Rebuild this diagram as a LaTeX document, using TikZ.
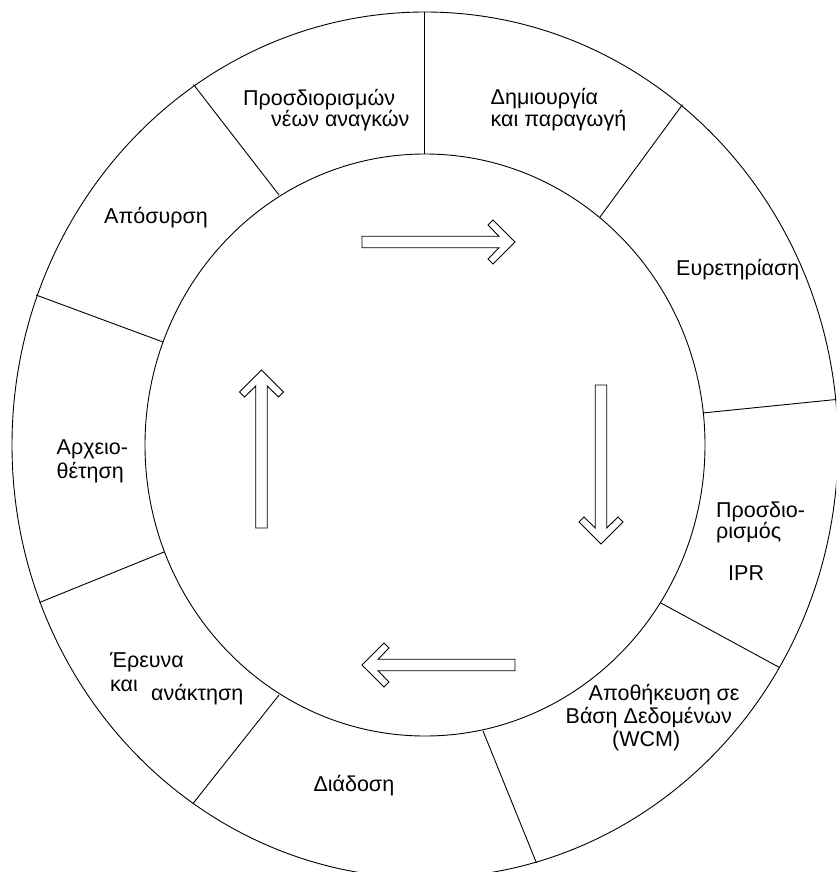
\documentclass[tikz,border=0pt]{standalone}
\usepackage{fontspec}
\setmainfont{Liberation Sans}
\tikzset{
  ring/.style={draw=black,line width=0.9pt},
  divider/.style={draw=black,line width=0.9pt},
  label/.style={inner sep=0pt,anchor=base west,font=\fontsize{21.5}{24}\selectfont},
  arrowline/.style={draw=black,line width=0.9pt,fill=white,line join=miter},
  pics/hollowarrow/.style={code={%
    \path[arrowline] (-#1,5.75) -- (-16,5.75) -- (-27,17) -- (-22,22) -- (0,0)
      -- (-22,-22) -- (-27,-17) -- (-16,-5.75) -- (-#1,-5.75) -- cycle;}}
}
\begin{document}
\begin{tikzpicture}[x=1pt,y=-1pt]
\useasboundingbox (0,0) rectangle (836,872);
\clip (0,0) rectangle (836,872);

% two rings
\coordinate (c) at (425,445);
\draw[ring] (c) ellipse [x radius=413pt, y radius=433pt];
\draw[ring] (c) ellipse [x radius=280pt, y radius=291pt];

% sector dividers: inner end (i) to outer end (o)
\coordinate (i1) at (424,154);   \coordinate (o1) at (424,12);
\coordinate (i2) at (279,195);   \coordinate (o2) at (193.5,84.5);
\coordinate (i3) at (163,342);   \coordinate (o3) at (36,295);
\coordinate (i4) at (164,552);   \coordinate (o4) at (39.5,602.5);
\coordinate (i5) at (279,695);   \coordinate (o5) at (193,803.5);
\coordinate (i6) at (483,731);   \coordinate (o6) at (536.5,863);
\coordinate (i7) at (660,602.5); \coordinate (o7) at (779.5,667.5);
\coordinate (i8) at (702.5,413); \coordinate (o8) at (836,399.5);
\coordinate (i9) at (600,217);   \coordinate (o9) at (682.5,104.6);
\foreach \k in {1,...,9} \draw[divider] (i\k) -- (o\k);

% cycle arrows
\pic at (515,242) {hollowarrow=153};
\pic[rotate=-90] at (601,544) {hollowarrow=159};
\pic[rotate=180] at (362,665) {hollowarrow=153};
\pic[rotate=90] at (261.5,370) {hollowarrow=158};

% sector labels
\node[label] (n1) at (243,106) {Προσδιορισμών};
\node[label] (n2) at (271,127) {νέων αναγκών};
\node[label] (d1) at (490.5,105) {Δημιουργία};
\node[label] (d2) at (490.5,127) {και παραγωγή};
\node[label] (a1) at (104,223) {Απόσυρση};
\node[label] (e1) at (676,275) {Ευρετηρίαση};
\node[label] (r1) at (56.5,454.5) {Αρχειο-};
\node[label] (r2) at (56.5,478) {θέτηση};
\node[label] (p1) at (716,517) {Προσδιο-};
\node[label] (p2) at (716,538) {ρισμός};
\node[label] (p3) at (728,580) {IPR};
\node[label] (s1) at (588.5,700) {Αποθήκευση σε};
\node[label] (s2) at (565.5,723) {Βάση Δεδομένων};
\node[label] (s3) at (612,746) {(WCM)};
\node[label] (dd) at (313.3,791.7) {Διάδοση};
\node[label] (f1) at (110,667) {Έρευνα};
\node[label] (f2) at (110,691) {και};
\node[label] (f3) at (151,700) {ανάκτηση};
\end{tikzpicture}
\end{document}
